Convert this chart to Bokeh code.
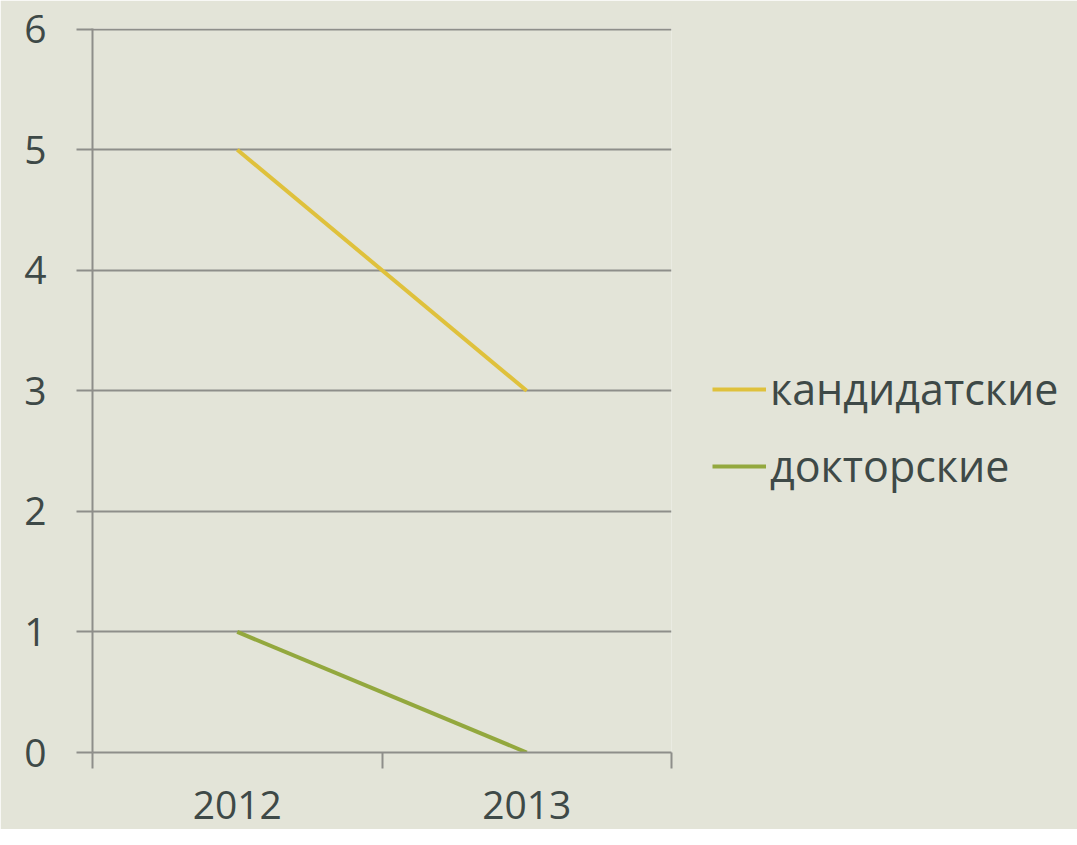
from bokeh.plotting import figure
from bokeh.models import Range1d, FixedTicker, Legend, LegendItem
from bokeh.embed import file_html
from bokeh.resources import INLINE

years = ["2012", "2013"]
cand = [5, 3]
doc = [1, 0]
y_ticks = [0, 1, 2, 3, 4, 5, 6]

xs = [i + 0.5 for i in range(len(years))]

BG = "#e3e4d8"
GRID = "#8e8e8a"
TXT = "#3e4947"
FONT = "Open Sans"

p = figure(frame_width=579, frame_height=724, output_backend="svg", toolbar_location=None,
           x_range=Range1d(0, len(years)), y_range=Range1d(0, 6.005),
           min_border_left=92, min_border_top=28, min_border_right=390, min_border_bottom=77)
p.background_fill_color = BG
p.border_fill_color = BG
p.outline_line_color = None

# y axis
p.yaxis.ticker = FixedTicker(ticks=y_ticks)
p.yaxis.axis_line_color = GRID
p.yaxis.axis_line_width = 2
p.yaxis.major_tick_line_color = GRID
p.yaxis.major_tick_line_width = 2
p.yaxis.major_tick_out = 16
p.yaxis.major_tick_in = 0
p.yaxis.minor_tick_line_color = None
p.yaxis.major_label_standoff = 30
p.yaxis.major_label_text_font = FONT
p.yaxis.major_label_text_font_size = "39px"
p.yaxis.major_label_text_color = TXT

# x axis
p.xaxis.ticker = FixedTicker(ticks=xs, minor_ticks=list(range(len(years) + 1)))
p.xaxis.major_label_overrides = {x: y for x, y in zip(xs, years)}
p.xaxis.axis_line_color = GRID
p.xaxis.axis_line_width = 2
p.xaxis.major_tick_line_color = None
p.xaxis.major_tick_out = 0
p.xaxis.major_tick_in = 0
p.xaxis.minor_tick_line_color = GRID
p.xaxis.minor_tick_line_width = 2
p.xaxis.minor_tick_out = 16
p.xaxis.minor_tick_in = 0
p.xaxis.major_label_standoff = 22
p.xaxis.major_label_text_font = FONT
p.xaxis.major_label_text_font_size = "39px"
p.xaxis.major_label_text_color = TXT

p.xgrid.grid_line_color = None
p.ygrid.ticker = FixedTicker(ticks=y_ticks)
p.ygrid.grid_line_color = GRID
p.ygrid.grid_line_width = 2

r1 = p.line(xs, cand, line_color="#dfc13c", line_width=4)
r2 = p.line(xs, doc, line_color="#93a83e", line_width=4)

legend = Legend(items=[LegendItem(label="кандидатские", renderers=[r1]),
                       LegendItem(label="докторские", renderers=[r2])],
                location=(41, 257), orientation="vertical",
                glyph_width=54, glyph_height=40, label_height=40, label_standoff=4,
                spacing=18, padding=0, margin=0,
                border_line_color=None, background_fill_alpha=0,
                label_text_font=FONT, label_text_font_size="43px", label_text_color=TXT)
p.add_layout(legend, "right")

open("out.html", "w").write(file_html(p, INLINE))
